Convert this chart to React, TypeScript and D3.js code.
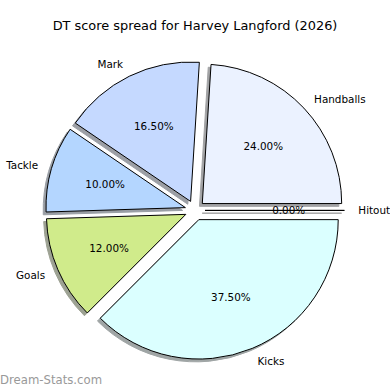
import React from "react";
import * as d3 from "d3";

const categories = ["Handballs", "Mark", "Tackle", "Goals", "Kicks", "Hitout"];
const values = [24.0, 16.5, 10.0, 12.0, 37.5, 0.0];
const colors = ["#ebf2ff", "#c5d9ff", "#b4d6ff", "#d0eb8b", "#dbffff", "#f0f0f0"];
const title = "DT score spread for Harvey Langford (2026)";
const watermark = "Dream-Stats.com";

const W = 390;
const H = 390;
const cx = 195;
const cy = 210.4;
const R = 139.4;
const explode = 10;
const shadowOff = 2.8;

export default function App() {
  const pie = d3
    .pie<number>()
    .sort(null)
    .value((v) => v)
    .startAngle(Math.PI / 2)
    .endAngle(Math.PI / 2 - 2 * Math.PI);
  const arcs = pie(values);
  const arc = d3.arc<d3.PieArcDatum<number>>().innerRadius(0).outerRadius(R);

  const items = arcs.map((a, i) => {
    const mid = (a.startAngle + a.endAngle) / 2;
    const ox = explode * Math.sin(mid);
    const oy = -explode * Math.cos(mid);
    let path: string;
    if (a.startAngle === a.endAngle) {
      const p = d3.path();
      p.moveTo(0, 0);
      p.lineTo(R * Math.sin(mid), -R * Math.cos(mid));
      p.closePath();
      path = p.toString();
    } else {
      path = arc(a) || "";
    }
    const lx = ox + 1.1 * R * Math.sin(mid);
    const ly = oy - 1.1 * R * Math.cos(mid);
    const px = ox + 0.6 * R * Math.sin(mid);
    const py = oy - 0.6 * R * Math.cos(mid);
    const c = d3.rgb(colors[i]);
    const shadow = d3.rgb(c.r * 0.3, c.g * 0.3, c.b * 0.3).formatHex();
    return { i, ox, oy, path, lx, ly, px, py, shadow, anchor: Math.sin(mid) > 0 ? "start" : "end" };
  });

  const font = "DejaVu Sans, sans-serif";

  return (
    <svg
      width={W}
      height={H}
      style={{ position: "absolute", left: 0, top: 0, background: "#fff" }}
      fontFamily={font}
    >
      <rect width={W} height={H} fill="#fff" />
      <text x={195} y={25} textAnchor="middle" dominantBaseline="central" fontSize={12.9} fill="#000">
        {title}
      </text>
      <g transform={`translate(${cx},${cy})`}>
        {items.map((it) => (
          <path
            key={"s" + it.i}
            d={it.path}
            transform={`translate(${it.ox - shadowOff},${it.oy + shadowOff})`}
            fill={it.shadow}
            stroke={it.shadow}
            strokeWidth={1}
            opacity={0.5}
            strokeLinejoin="round"
          />
        ))}
        {items.map((it) => (
          <path
            key={"w" + it.i}
            d={it.path}
            transform={`translate(${it.ox},${it.oy})`}
            fill={colors[it.i]}
            stroke="#000"
            strokeWidth={1}
            strokeLinejoin="round"
          />
        ))}
        {items.map((it) => (
          <text
            key={"l" + it.i}
            x={it.lx}
            y={it.ly}
            textAnchor={it.anchor}
            dominantBaseline="central"
            fontSize={10.4}
            fill="#000"
          >
            {categories[it.i]}
          </text>
        ))}
        {items.map((it) => (
          <text
            key={"p" + it.i}
            x={it.px}
            y={it.py}
            textAnchor="middle"
            dominantBaseline="central"
            fontSize={10.4}
            fill="#000"
          >
            {values[it.i].toFixed(2) + "%"}
          </text>
        ))}
      </g>
      <text x={0} y={384} fontSize={11.7} fill="#999">
        {watermark}
      </text>
    </svg>
  );
}
